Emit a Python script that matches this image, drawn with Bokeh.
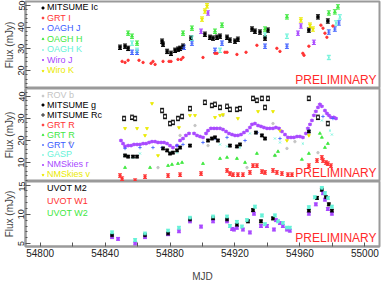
from bokeh.plotting import figure
from bokeh.models import (Range1d, FixedTicker, ColumnDataSource, Whisker, TeeHead,
                          Legend, LegendItem, Label)
from bokeh.layouts import column
from bokeh.embed import file_html
from bokeh.resources import INLINE

FONT = "Liberation Sans"

# ---------------- axes ----------------
X_START, X_END = 54791, 55009
X_TICKS = [54800, 54840, 54880, 54920, 54960, 55000]
X_MINOR = [54820, 54860, 54900, 54940, 54980]
TOP_Y = (11.7, 51.8)
TOP_TICKS = [20, 30, 40, 50]
MID_Y = (1.4, 43.6)
MID_TICKS = [10, 20, 30, 40]
BOT_Y = (4.5, 15.6)
BOT_TICKS = [5, 10, 15]

# ---------------- top panel (MJD, flux mJy) ----------------
mitsume_ic = [(54849.2, 30.7), (54852.3, 31.2), (54854.2, 30.2), (54875.1, 33.5), (54875.7, 32.1),
              (54878.2, 28.8), (54880.6, 27.9), (54883.1, 29.3), (54884.9, 29.8), (54886.2, 30.2),
              (54888.0, 31.2), (54892.9, 34.9), (54901.5, 36.7), (54904.6, 35.3), (54906.5, 34.9),
              (54908.9, 35.3), (54910.8, 35.8), (54915.1, 35.3), (54916.9, 34.0), (54920.0, 33.5),
              (54921.8, 34.4), (54930.5, 39.1), (54932.3, 38.1), (54935.4, 37.7), (54938.5, 34.9),
              (54940.3, 38.6), (54965.5, 38.6), (54971.1, 44.7), (54977.2, 42.8)]
grt_i = [(54850.5, 24.2), (54852.3, 23.7), (54854.2, 24.7), (54860.9, 24.7), (54863.4, 23.7),
         (54868.3, 23.3), (54869.5, 24.2), (54870.8, 22.8), (54875.7, 24.2), (54879.4, 24.2),
         (54880.6, 24.2), (54884.9, 25.1), (54886.8, 25.1), (54888.0, 26.0), (54900.3, 26.0),
         (54907.7, 27.9), (54908.9, 27.9), (54913.8, 28.4), (54915.1, 28.4), (54921.2, 27.4),
         (54926.8, 28.4), (54933.5, 31.6), (54945.8, 30.2), (54947.7, 28.8), (54961.8, 27.9),
         (54962.5, 27.0), (54965.5, 31.2), (54972.9, 40.9), (54974.2, 39.5), (54975.4, 37.2),
         (54976.6, 35.3), (54980.3, 40.5)]
oagh_j = [(54856.6, 28.4), (54859.7, 28.4), (54888.6, 30.7), (54893.5, 32.6), (54907.7, 29.3),
          (54912.0, 32.6), (54938.5, 31.2), (54952.0, 31.2), (54977.8, 37.7), (54981.5, 39.1),
          (54984.0, 41.9)]
oagh_h = [(54854.2, 37.2), (54856.6, 35.8), (54859.7, 32.6), (54888.0, 37.2), (54893.5, 39.5),
          (54907.7, 38.1), (54912.0, 40.9), (54938.5, 39.1), (54952.0, 44.7), (54977.8, 46.5),
          (54981.5, 47.0), (54983.4, 49.3)]
oagh_k = [(54856.6, 32.6), (54859.7, 29.3), (54893.5, 34.9), (54910.8, 29.3), (54938.5, 36.3),
          (54952.0, 35.8), (54977.8, 26.0), (54982.2, 41.9), (54984.6, 44.7)]
wiro_j = [(54899.1, 38.1), (54903.4, 46.5), (54958.8, 37.2), (54960.6, 40.5), (54968.6, 33.0)]
wiro_k = [(54899.7, 43.7), (54901.5, 47.4), (54902.8, 49.8), (54960.6, 43.3), (54966.2, 40.9),
          (54968.0, 39.1)]

# ---------------- middle panel ----------------
rov_b = [(54818.5, 19.1), (54872.6, 7.7), (54886.2, 22.3), (54895.4, 26.8), (54903.4, 17.7),
         (54910.8, 25.5), (54912.6, 31.4), (54927.4, 7.7), (54943.4, 27.7), (54944.6, 13.2),
         (54952.0, 16.4), (54956.9, 19.5), (54971.1, 14.5)]
mitsume_g = [(54852.3, 13.2), (54854.2, 12.7), (54857.2, 12.7), (54859.7, 12.7), (54875.7, 16.4),
             (54878.2, 15.5), (54880.0, 14.1), (54881.8, 14.5), (54884.3, 15.5), (54886.2, 16.8),
             (54892.3, 17.7), (54903.4, 20.0), (54905.8, 20.9), (54907.7, 21.4), (54909.5, 20.0),
             (54916.9, 17.7), (54921.2, 17.3), (54923.1, 18.2), (54932.9, 23.6), (54936.6, 22.3),
             (54938.5, 20.9), (54965.5, 24.1)]
mitsume_rc = [(54851.7, 30.0), (54856.6, 30.5), (54858.5, 30.0), (54875.1, 33.6), (54876.9, 30.9),
              (54880.0, 27.7), (54881.8, 28.2), (54884.9, 30.0), (54887.4, 30.9), (54892.3, 34.5),
              (54901.5, 37.3), (54905.8, 35.9), (54907.7, 36.4), (54910.8, 35.0), (54915.1, 35.5),
              (54916.9, 34.1), (54921.2, 34.1), (54923.1, 34.5), (54931.1, 39.1), (54933.5, 38.2),
              (54936.6, 39.1), (54940.3, 39.1), (54938.5, 35.0), (54965.5, 39.1), (54971.1, 30.5),
              (54977.2, 27.7)]
grt_r_red = [(54849.2, 4.1), (54850.5, 2.7), (54858.5, 1.8), (54864.6, 3.6), (54878.8, 4.1),
             (54886.2, 4.5), (54899.1, 5.0), (54915.1, 6.4), (54916.9, 5.0), (54918.8, 4.5),
             (54921.8, 4.5), (54924.9, 4.5), (54929.2, 5.5), (54931.1, 8.6), (54933.5, 8.6),
             (54936.6, 5.9), (54938.5, 5.5), (54943.4, 6.4), (54945.8, 5.5), (54948.9, 5.0),
             (54952.6, 4.5), (54955.1, 4.5), (54965.5, 8.6), (54970.5, 10.9), (54973.5, 12.3),
             (54974.2, 10.9), (54976.0, 10.0), (54977.2, 9.5), (54979.1, 8.6)]
grt_r_green = [(54852.3, 7.7), (54867.7, 7.7), (54878.8, 8.6), (54881.2, 9.1), (54884.9, 9.5),
               (54887.4, 10.0), (54900.3, 9.5), (54910.8, 11.8), (54915.1, 12.3), (54921.2, 11.8),
               (54926.2, 10.0), (54933.5, 14.1), (54944.6, 13.2), (54946.5, 15.0), (54961.2, 11.4),
               (54965.5, 14.1), (54972.3, 23.2), (54973.5, 21.4), (54975.4, 16.8), (54977.2, 18.6)]
grt_v = [(54852.3, 16.4), (54861.5, 16.8), (54869.5, 16.8), (54875.1, 16.8), (54884.3, 17.7),
         (54888.0, 18.2), (54900.3, 19.1), (54907.7, 20.9), (54915.1, 21.4), (54926.2, 20.0),
         (54933.5, 23.6), (54947.7, 20.9), (54965.5, 24.5), (54974.2, 30.9), (54980.3, 30.0)]
gasp = [(54852.3, 13.2), (54857.2, 12.3), (54861.5, 14.1), (54880.0, 14.5), (54884.3, 14.5),
        (54910.8, 18.2), (54915.1, 17.3), (54923.1, 16.8), (54929.2, 23.2), (54944.6, 20.9),
        (54947.7, 19.1), (54961.8, 18.6), (54973.5, 29.1), (54978.5, 24.5), (54979.7, 22.7)]
nmskies_r = [(54849.8, 20.0), (54851.1, 18.6), (54852.3, 17.3), (54854.2, 17.7), (54856.0, 17.7),
             (54857.8, 18.2), (54859.7, 18.2), (54861.5, 18.2), (54863.4, 18.6), (54865.2, 18.6),
             (54867.1, 19.1), (54868.9, 19.5), (54870.8, 19.5), (54872.6, 19.1), (54874.5, 19.1),
             (54876.3, 19.1), (54878.2, 18.6), (54880.0, 17.7), (54881.8, 16.8), (54884.3, 17.7),
             (54886.2, 20.0), (54888.0, 20.9), (54889.8, 22.3), (54891.7, 23.2), (54894.8, 23.2),
             (54896.6, 22.3), (54898.5, 21.8), (54900.3, 21.4), (54902.2, 23.2), (54903.4, 24.5),
             (54905.2, 25.5), (54907.1, 25.5), (54908.9, 25.5), (54910.8, 25.5), (54912.6, 25.0),
             (54914.5, 24.1), (54916.3, 23.2), (54918.2, 22.7), (54920.0, 22.3), (54921.8, 22.3),
             (54923.7, 22.7), (54925.5, 23.6), (54927.4, 24.5), (54929.2, 25.9), (54930.5, 27.3),
             (54932.3, 27.7), (54934.2, 26.8), (54936.0, 26.4), (54937.8, 25.9), (54939.7, 25.5),
             (54941.5, 25.5), (54943.4, 25.5), (54945.2, 25.9), (54947.1, 25.5), (54948.9, 24.1),
             (54950.8, 22.7), (54952.6, 21.4), (54954.5, 21.4), (54956.3, 21.4), (54958.2, 21.8),
             (54960.0, 21.8), (54961.8, 21.4), (54963.7, 23.2), (54964.9, 25.5), (54966.2, 27.3),
             (54967.4, 29.1), (54968.6, 31.4), (54969.8, 33.2), (54971.1, 35.0), (54972.3, 36.4),
             (54973.5, 35.5), (54975.4, 33.6), (54976.6, 32.3), (54977.8, 31.4), (54979.1, 30.5),
             (54980.9, 30.5), (54982.2, 30.0)]
nmskies_v = [(54852.3, 25.5), (54859.7, 25.5), (54865.8, 25.5), (54864.6, 22.3), (54872.6, 13.2),
             (54868.9, 36.8), (54885.5, 25.9), (54892.3, 31.4), (54895.4, 31.4), (54907.7, 30.5),
             (54910.8, 31.4), (54912.6, 31.8), (54921.8, 30.0), (54934.2, 33.2), (54943.4, 33.2),
             (54947.7, 24.5), (54952.0, 20.0), (54965.5, 22.3)]

# ---------------- bottom panel (UVOT) ----------------
uvot_cyan = [(54844.3, 6.9), (54858.5, 5.6), (54864.6, 6.7), (54878.8, 7.2), (54885.5, 7.7),
             (54892.3, 9.4), (54906.5, 9.6), (54915.1, 9.6), (54916.9, 8.0), (54921.2, 8.7),
             (54924.3, 7.9), (54927.4, 9.0), (54932.3, 11.3), (54936.6, 9.8), (54938.5, 8.3),
             (54944.6, 9.8), (54946.5, 8.8), (54949.5, 8.5), (54952.0, 7.7), (54953.8, 7.7),
             (54965.5, 11.2), (54969.2, 12.9), (54973.5, 14.5), (54975.4, 13.6), (54977.2, 12.8),
             (54979.7, 11.3)]
uvot_black = [(54844.3, 6.4), (54864.6, 6.4), (54878.8, 6.7), (54892.3, 9.1), (54906.5, 9.3),
              (54915.1, 9.1), (54921.2, 8.2), (54928.0, 8.8), (54931.1, 10.7), (54936.0, 8.8),
              (54943.4, 9.3), (54965.5, 10.6), (54970.5, 12.8), (54973.5, 14.2), (54976.0, 12.9),
              (54977.8, 11.7), (54979.7, 10.6)]
uvot_purple = [(54844.3, 6.1), (54848.0, 5.8), (54858.5, 5.0), (54864.6, 6.1), (54878.8, 6.6),
               (54885.5, 7.1), (54892.3, 8.8), (54899.1, 7.9), (54906.5, 8.8), (54915.1, 8.8),
               (54918.2, 7.5), (54919.4, 7.4), (54921.2, 7.7), (54924.9, 7.4), (54929.2, 6.9),
               (54931.7, 10.1), (54936.0, 8.0), (54939.7, 8.0), (54944.0, 7.4), (54945.2, 9.0),
               (54947.7, 8.5), (54949.5, 8.0), (54952.0, 7.4), (54953.8, 7.2), (54965.5, 10.1),
               (54969.8, 11.7), (54974.2, 13.6), (54975.4, 12.5), (54977.2, 10.9), (54979.7, 10.1)]

# typical error-bar half sizes (mJy)
ERR_IC, ERR_OAGH, ERR_WIRO = 1.0, 1.0, 1.0
ERR_RC, ERR_G, ERR_GRTR, ERR_NMS = 1.0, 0.6, 0.8, 0.3
ERR_UVOT = 0.25

BLACK, RED, BLUE, GREEN = "#000000", "#ff3333", "#3a5cff", "#3fe83f"
CYAN, PURPLE, YELLOW, GRAY = "#66f2d8", "#a848ff", "#eaea00", "#c4c4c4"
FRAME = "#9a9a9a"

xr = Range1d(X_START, X_END)


def make_panel(height, yr, ticks, minor, border_top, with_x):
    p = figure(width=381, height=height, x_range=xr, y_range=Range1d(*yr),
               output_backend="svg", toolbar_location=None,
               min_border_left=20, min_border_right=2, min_border_top=border_top,
               min_border_bottom=0)
    p.xgrid.visible = False
    p.ygrid.visible = False
    p.outline_line_color = FRAME
    p.outline_line_width = 2
    p.background_fill_color = "white"
    p.border_fill_color = "white"
    ya = p.yaxis[0]
    ya.ticker = FixedTicker(ticks=ticks, minor_ticks=minor)
    ya.axis_label = "Flux (mJy)"
    ya.axis_label_text_font = FONT
    ya.axis_label_text_font_size = "10px"
    ya.axis_label_text_font_style = "normal"
    ya.axis_label_standoff = 1
    ya.major_label_orientation = "vertical"
    ya.major_label_text_font = FONT
    ya.major_label_text_font_size = "9px"
    ya.major_label_text_color = "#222222"
    ya.major_label_standoff = 1
    ya.axis_line_color = FRAME
    ya.axis_line_width = 2
    ya.major_tick_in, ya.major_tick_out = 5, 0
    ya.minor_tick_in, ya.minor_tick_out = 2, 0
    ya.major_tick_line_color = "#555555"
    ya.minor_tick_line_color = "#555555"
    xa = p.xaxis[0]
    if with_x:
        xa.ticker = FixedTicker(ticks=X_TICKS, minor_ticks=X_MINOR)
        xa.axis_label = "MJD"
        xa.axis_label_text_font = FONT
        xa.axis_label_text_font_size = "10px"
        xa.axis_label_text_font_style = "normal"
        xa.axis_label_standoff = 11
        xa.major_label_text_font = FONT
        xa.major_label_text_font_size = "10px"
        xa.major_label_text_color = "#222222"
        xa.major_label_standoff = 2
        xa.axis_line_color = FRAME
        xa.axis_line_width = 2
        xa.major_tick_in, xa.major_tick_out = 4, 0
        xa.minor_tick_in, xa.minor_tick_out = 4, 0
        xa.major_tick_line_color = "#555555"
        xa.minor_tick_line_color = "#555555"
    else:
        xa.visible = False
    return p


def series(p, pts, color, marker, size=2.5, err=None, fill=True):
    xs = [a for a, _ in pts]
    ys = [b for _, b in pts]
    data = dict(x=xs, y=ys)
    if err is not None:
        data["lo"] = [v - err for v in ys]
        data["up"] = [v + err for v in ys]
    src = ColumnDataSource(data)
    if err is not None:
        p.add_layout(Whisker(source=src, base="x", lower="lo", upper="up", dimension="height",
                             line_color=color, line_width=1,
                             upper_head=TeeHead(size=4, line_color=color, line_width=1),
                             lower_head=TeeHead(size=4, line_color=color, line_width=1)))
    return p.scatter("x", "y", source=src, marker=marker, size=size, line_color=color,
                     fill_color=color if fill else "white", line_width=0.8)


def legend_row(p, label, renderer, color, row_c, frame_h, x=15):
    p.add_layout(Legend(items=[LegendItem(label=label, renderers=[renderer])],
                        location=(x, frame_h - row_c - 5), padding=0, margin=0, spacing=0,
                        glyph_width=5, glyph_height=5, label_height=10, label_standoff=2,
                        label_text_font=FONT, label_text_font_size="9px",
                        label_text_color=color, background_fill_alpha=0,
                        border_line_alpha=0))


def prelim(p, yr):
    p.add_layout(Label(x=X_END, y=yr[0], x_offset=-3, y_offset=2, text="PRELIMINARY",
                       text_align="right", text_baseline="bottom", text_color="#ff2a2a",
                       text_font=FONT, text_font_size="12px"))


# ---------------- top ----------------
TOP_FH = 87
p1 = make_panel(88, TOP_Y, TOP_TICKS, [12, 14, 16, 18, 22, 24, 26, 28, 32, 34, 36, 38, 42, 44, 46, 48, 50],
                1, False)
r_ic = series(p1, mitsume_ic, BLACK, "square", 2.5, ERR_IC)
r_gi = series(p1, grt_i, RED, "circle", 2.5)
r_oj = series(p1, oagh_j, BLUE, "cross", 3.5, ERR_OAGH)
r_oh = series(p1, oagh_h, GREEN, "triangle", 3, ERR_OAGH)
r_ok = series(p1, oagh_k, CYAN, "x", 3, ERR_OAGH)
r_wj = series(p1, wiro_j, PURPLE, "diamond", 3.5, ERR_WIRO)
r_wk = series(p1, wiro_k, YELLOW, "inverted_triangle", 3, ERR_WIRO)
for i, (lab, r, c) in enumerate([("MITSUME Ic", r_ic, BLACK), ("GRT I", r_gi, RED),
                                  ("OAGH J", r_oj, BLUE), ("OAGH H", r_oh, GREEN),
                                  ("OAGH K", r_ok, CYAN), ("Wiro J", r_wj, PURPLE),
                                  ("Wiro K", r_wk, YELLOW)]):
    legend_row(p1, lab, r, c, 6 + 10.5 * i, TOP_FH)
prelim(p1, TOP_Y)

# ---------------- middle ----------------
MID_FH = 93
p2 = make_panel(93, MID_Y, MID_TICKS, [2, 4, 6, 8, 12, 14, 16, 18, 22, 24, 26, 28, 32, 34, 36, 38, 42],
                0, False)
r_rov = series(p2, rov_b, GRAY, "circle", 2.5)
r_gr = series(p2, grt_r_green, GREEN, "triangle", 3)
r_rr = series(p2, grt_r_red, RED, "circle", 2.5, ERR_GRTR)
r_gasp = series(p2, gasp, CYAN, "x", 3)
r_nv = series(p2, nmskies_v, YELLOW, "inverted_triangle", 3)
r_nr = series(p2, nmskies_r, PURPLE, "diamond", 3.5, ERR_NMS)
r_gv = series(p2, grt_v, BLUE, "cross", 3.5)
r_g = series(p2, mitsume_g, BLACK, "square", 2.5, ERR_G)
r_rc = series(p2, mitsume_rc, BLACK, "square", 3, ERR_RC, fill=False)
for i, (lab, r, c) in enumerate([("ROV b", r_rov, GRAY), ("MITSUME g", r_g, BLACK),
                                  ("MITSUME Rc", r_rc, BLACK), ("GRT R", r_rr, RED),
                                  ("GRT R", r_gr, GREEN), ("GRT V", r_gv, BLUE),
                                  ("GASP", r_gasp, CYAN), ("NMSkies r", r_nr, PURPLE),
                                  ("NMSkies v", r_nv, YELLOW)]):
    legend_row(p2, lab, r, c, 7 + 9.9 * i, MID_FH)
prelim(p2, MID_Y)

# ---------------- bottom ----------------
BOT_FH = 66
p3 = make_panel(103, BOT_Y, BOT_TICKS, [6, 7, 8, 9, 11, 12, 13, 14], 0, True)
series(p3, uvot_purple, PURPLE, "square", 2.5, ERR_UVOT)
series(p3, uvot_black, BLACK, "square", 2.5, ERR_UVOT)
series(p3, uvot_cyan, CYAN, "square", 2.5, ERR_UVOT)
for i, (lab, c) in enumerate([("UVOT M2", BLACK), ("UVOT W1", RED), ("UVOT W2", GREEN)]):
    r = p3.scatter(x=[], y=[], marker="square", size=2.5, color=c)
    legend_row(p3, lab, r, c, 8 + 12.5 * i, BOT_FH)
prelim(p3, BOT_Y)

layout = column(p1, p2, p3, spacing=0)
open("out.html", "w").write(file_html(layout, INLINE))
